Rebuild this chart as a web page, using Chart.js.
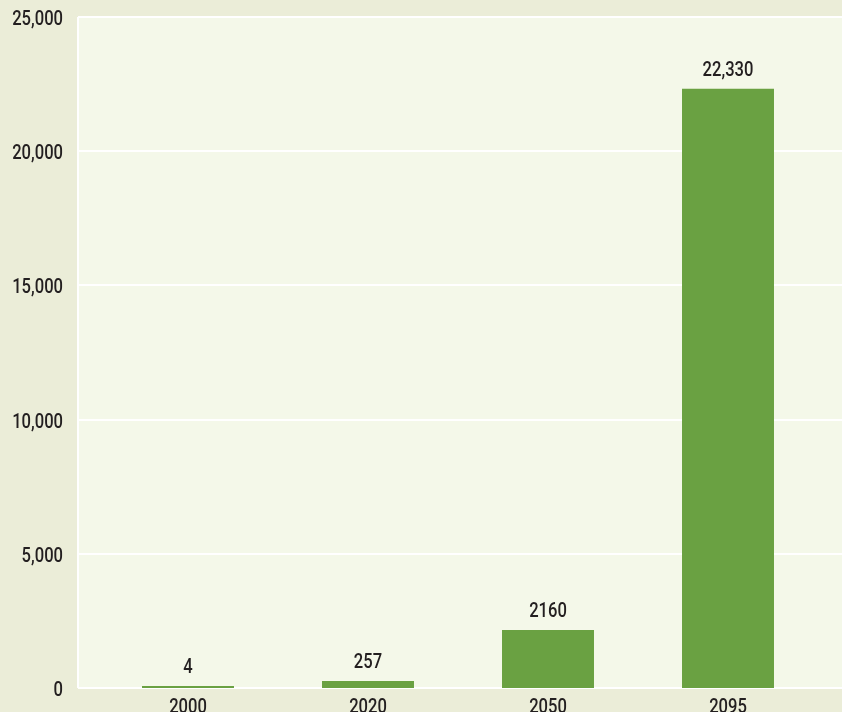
<!DOCTYPE html>
<html>
<head>
<meta charset="utf-8">
<script src="https://cdn.jsdelivr.net/npm/chart.js@4"></script>
<style>
html,body{margin:0;padding:0;background:#ebedd8;overflow:hidden;}
#wrap{width:842px;height:712px;}
</style>
</head>
<body>
<div id="wrap"><canvas id="c" width="842" height="712"></canvas></div>
<script>
const categories = ['2000', '2020', '2050', '2095'];
const values = [4, 257, 2160, 22330];
const valueLabels = ['4', '257', '2160', '22,330'];
const yTicks = [0, 5000, 10000, 15000, 20000, 25000];

const FONT = 'Roboto, "Liberation Sans", sans-serif';
const FONT_SIZE = 21;
const SQUEEZE = 0.79;
const TEXT_COLOR = '#231f20';
const PLOT_LEFT = 78;

function drawText(ctx, str, x, y, align) {
  ctx.save();
  ctx.translate(x, y);
  ctx.scale(SQUEEZE, 1);
  ctx.font = '500 ' + FONT_SIZE + 'px ' + FONT;
  ctx.fillStyle = TEXT_COLOR;
  ctx.textAlign = align;
  ctx.textBaseline = 'alphabetic';
  ctx.fillText(str, 0, 0);
  ctx.restore();
}

const bgPlugin = {
  id: 'bg',
  beforeDatasetsDraw(chart) {
    const {ctx, chartArea, scales} = chart;
    const y = scales.y;
    ctx.save();
    ctx.fillStyle = '#f4f8e9';
    ctx.fillRect(PLOT_LEFT, chartArea.top, chart.width - PLOT_LEFT, chartArea.bottom - chartArea.top);
    ctx.strokeStyle = '#ffffff';
    ctx.lineWidth = 2;
    yTicks.forEach(v => {
      const py = Math.round(y.getPixelForValue(v));
      ctx.beginPath();
      ctx.moveTo(PLOT_LEFT, py);
      ctx.lineTo(chart.width, py);
      ctx.stroke();
    });
    ctx.beginPath();
    ctx.moveTo(PLOT_LEFT, chartArea.top);
    ctx.lineTo(PLOT_LEFT, chartArea.bottom);
    ctx.stroke();
    ctx.restore();
  }
};

const labelPlugin = {
  id: 'texts',
  afterDatasetsDraw(chart) {
    const {ctx, scales} = chart;
    const y = scales.y, x = scales.x;
    yTicks.forEach(v => {
      drawText(ctx, v.toLocaleString('en-US'), 63, y.getPixelForValue(v) + 8, 'right');
    });
    categories.forEach((c, i) => {
      drawText(ctx, c, x.getPixelForValue(i), 713, 'center');
    });
    const meta = chart.getDatasetMeta(0);
    meta.data.forEach((bar, i) => {
      drawText(ctx, valueLabels[i], bar.x, bar.y - 13, 'center');
    });
  }
};

new Chart(document.getElementById('c'), {
  type: 'bar',
  data: {
    labels: categories,
    datasets: [{
      data: values,
      backgroundColor: '#6aa142',
      borderWidth: 0,
      categoryPercentage: 1,
      barPercentage: 0.511,
      minBarLength: 2
    }]
  },
  options: {
    responsive: false,
    animation: false,
    devicePixelRatio: 1,
    layout: {padding: {top: 17, right: 24, bottom: 24, left: 98}},
    plugins: {legend: {display: false}, tooltip: {enabled: false}},
    scales: {
      x: {display: false},
      y: {display: false, min: 0, max: 25000}
    }
  },
  plugins: [bgPlugin, labelPlugin]
});
</script>
</body>
</html>
